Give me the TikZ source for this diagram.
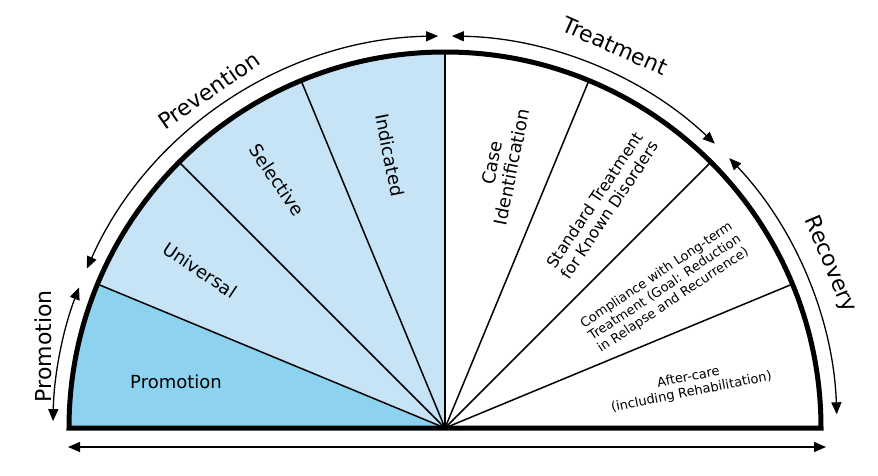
\documentclass[tikz,border=0pt]{standalone}
\usepackage{fontspec}
\setmainfont{DejaVu Sans}
\usetikzlibrary{arrows.meta,calc}
\definecolor{promo}{HTML}{8DD3F0}
\definecolor{prev}{HTML}{C6E4F5}
\begin{document}
\begin{tikzpicture}[x=1pt,y=1pt,
  sep/.style={line width=1.5pt},
  rim/.style={line width=5pt,line join=miter},
  span/.style={line width=1.3pt,{Triangle[length=12pt,width=10pt]}-{Triangle[length=12pt,width=10pt]}},
  lab/.style={font=\fontsize{22}{24}\selectfont},
  sec/.style={font=\fontsize{18}{20}\selectfont,align=center},
  small/.style={font=\fontsize{13}{15}\selectfont,align=center}]
\useasboundingbox (0,0) rectangle (878,-476);
\coordinate (C) at (445,-428);
\def\R{376}
\fill[promo] (C) -- ++(180:\R) arc[start angle=180,end angle=157.5,radius=\R] -- cycle;
\fill[prev] (C) -- ++(157.5:\R) arc[start angle=157.5,end angle=90,radius=\R] -- cycle;
\foreach \a in {157.5,135,112.5,90,67.5,45,22.5} \draw[sep] (C) -- ++(\a:\R);
\draw[rim] (C) ++(0:\R) arc[start angle=0,end angle=180,radius=\R] -- cycle;
% outer spans
\draw[span] (C) ++(179:392) arc[start angle=179,end angle=159,radius=392];
\draw[span] (C) ++(156:392) arc[start angle=156,end angle=91,radius=392];
\draw[span] (C) ++(89:392) arc[start angle=89,end angle=46.5,radius=392];
\draw[span] (C) ++(43.5:392) arc[start angle=43.5,end angle=2,radius=392];
\coordinate (bl) at (68,-447); \coordinate (br) at (826,-447);
\draw[span] (bl) -- (br);
% outer labels
\node[lab,rotate=90] (lp) at ($(C)+(168.5:410)$) {Promotion};
\node[lab,rotate=35] (lv) at ($(C)+(125:412)$) {Prevention};
\node[lab,rotate=-24] (lt) at ($(C)+(66:418)$) {Treatment};
\node[lab,rotate=-67] (lr) at ($(C)+(23:418)$) {Recovery};
% sector labels
\node[sec] (s1) at (176,-382) {Promotion};
\node[sec,rotate=-33.75] (s2) at (200,-270) {Universal};
\node[sec,rotate=-56.25] (s3) at (277,-180) {Selective};
\node[sec,rotate=-78.75] (s4) at (390,-155) {Indicated};
\node[sec,rotate=78.75] (s5) at (502,-165) {Case\\Identification};
\node[font=\fontsize{16}{18}\selectfont,align=center,rotate=56.25] (s6) at (602,-205) {Standard Treatment\\for Known Disorders};
\node[small,rotate=33.75] (s7) at (665,-288) {Compliance with Long-term\\Treatment (Goal: Reduction\\in Relapse and Recurrence)};
\node[small,rotate=11.25] (s8) at (690,-385) {After-care\\(including Rehabilitation)};
\end{tikzpicture}
\end{document}
